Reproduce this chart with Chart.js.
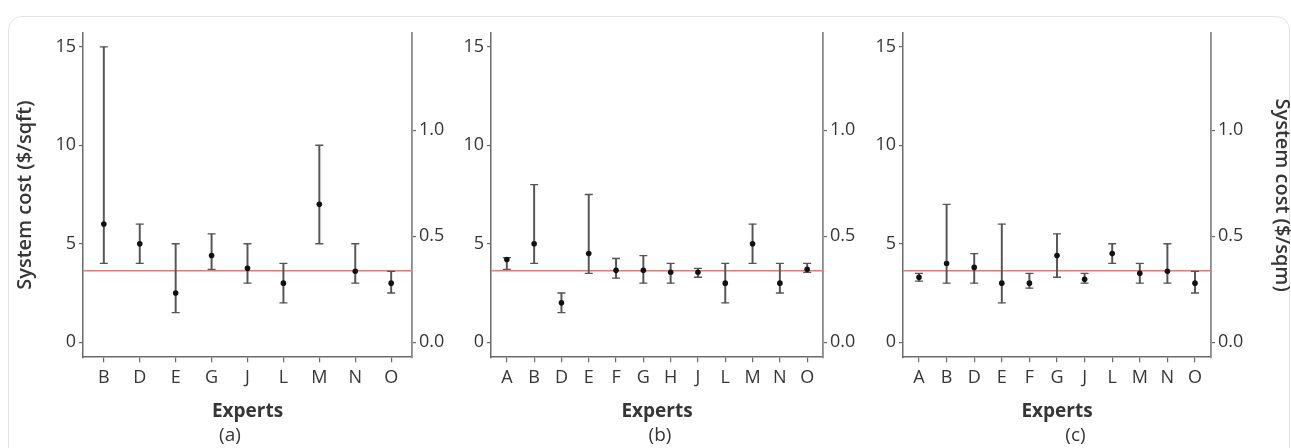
<!DOCTYPE html>
<html>
<head>
<meta charset="utf-8">
<script src="https://cdn.jsdelivr.net/npm/chart.js@4"></script>
<style>
  body { margin: 0; background: #fff; }
  #wrap { position: relative; width: 1291px; height: 448px; overflow: hidden; background: #fff; }
  #card { position: absolute; left: 8px; top: 16px; width: 1280px; height: 460px;
          border: 1.5px solid #e4e4e4; border-radius: 14px; background: #fff; }
  canvas { position: absolute; top: 0; }
</style>
</head>
<body>
<div id="wrap">
  <div id="card"></div>
  <canvas id="chartA" width="460" height="448" style="left:0px"></canvas>
  <canvas id="chartB" width="440" height="448" style="left:440px"></canvas>
  <canvas id="chartC" width="431" height="448" style="left:860px"></canvas>
</div>
<script>
// reference line (mean) shown in red on every panel
const refLine = 3.63;
const sqftPerSqm = 10.76;
const yTicks = [0, 5, 10, 15];
const y2Ticks = [0, 0.5, 1.0];

// panel (a)
const expertsA = ['B', 'D', 'E', 'G', 'J', 'L', 'M', 'N', 'O'];
const meanA  = [6, 5, 2.5, 4.4, 3.75, 3, 7, 3.6, 3];
const lowA   = [4, 4, 1.5, 3.7, 3, 2, 5, 3, 2.5];
const highA  = [15, 6, 5, 5.5, 5, 4, 10, 5, 3.6];

// panel (b)
const expertsB = ['A', 'B', 'D', 'E', 'F', 'G', 'H', 'J', 'L', 'M', 'N', 'O'];
const meanB  = [4.2, 5, 2, 4.5, 3.65, 3.65, 3.55, 3.55, 3, 5, 3, 3.7];
const lowB   = [3.7, 4, 1.5, 3.5, 3.25, 3, 3, 3.3, 2, 4, 2.5, 3.55];
const highB  = [4.3, 8, 2.5, 7.5, 4.25, 4.4, 4, 3.75, 4, 6, 4, 4];

// panel (c)
const expertsC = ['A', 'B', 'D', 'E', 'F', 'G', 'J', 'L', 'M', 'N', 'O'];
const meanC  = [3.3, 4, 3.8, 3, 3, 4.4, 3.2, 4.5, 3.5, 3.6, 3];
const lowC   = [3.1, 3, 3, 2, 2.75, 3.3, 3, 4, 3, 3, 2.5];
const highC  = [3.5, 7, 4.5, 6, 3.5, 5.5, 3.5, 5, 4, 5, 3.6];

const yMin = -0.76, yMax = 15.7;
const xPad = 0.58;
const axisColor = '#6a6a6a';
const textColor = '#363636';
const fontFamily = '"Open Sans", "Noto Sans", sans-serif';

function makePanel(id, opts) {
  const { labels, mean, low, high, tag, leftW, rightW, leftTitle, rightTitle } = opts;
  const xMin = -xPad, xMax = labels.length - 1 + xPad;
  const pts = arr => arr.map((v, i) => ({ x: i, y: v }));

  new Chart(document.getElementById(id), {
    type: 'scatter',
    data: {
      datasets: [
        { type: 'scatter', data: pts(mean), pointStyle: 'circle', pointRadius: 2.8,
          backgroundColor: '#111', borderColor: '#111', borderWidth: 0, order: 0 },
        { type: 'scatter', data: pts(high), pointStyle: 'line', pointRadius: 4,
          borderColor: '#555', borderWidth: 1.3, order: 1 },
        { type: 'scatter', data: pts(low), pointStyle: 'line', pointRadius: 4,
          borderColor: '#555', borderWidth: 1.3, order: 1 },
        { type: 'bar', data: labels.map((_, i) => ({ x: i, y: [low[i], high[i]] })),
          backgroundColor: '#555', borderWidth: 0, barThickness: 1.3, order: 2 },
        { type: 'line', data: [{ x: xMin, y: refLine }, { x: xMax, y: refLine }],
          borderColor: '#e27b7b', borderWidth: 1.6, pointRadius: 0, order: 3 }
      ]
    },
    options: {
      responsive: false,
      animation: false,
      events: [],
      layout: { padding: { top: 33, bottom: 1, left: 0, right: 0 } },
      plugins: {
        legend: { display: false },
        tooltip: { enabled: false },
        title: { display: true, text: tag, position: 'bottom', color: textColor,
                 font: { family: fontFamily, size: 19, weight: 'normal' }, padding: 0 }
      },
      scales: {
        x: {
          type: 'linear', min: xMin, max: xMax, offset: false,
          afterBuildTicks: s => { s.ticks = labels.map((_, i) => ({ value: i })); },
          afterFit: s => { s.height = 67; },
          grid: { drawOnChartArea: false, offset: false, color: axisColor, tickLength: 5, lineWidth: 1.2 },
          border: { color: axisColor, width: 1.5 },
          ticks: { callback: v => labels[v], color: textColor, maxRotation: 0, autoSkip: false,
                   padding: 5, font: { family: fontFamily, size: 18 } },
          title: { display: true, text: 'Experts', color: textColor, padding: { top: 0, bottom: 1 },
                   font: { family: fontFamily, size: 19, weight: 'bold' } }
        },
        y: {
          position: 'left', min: yMin, max: yMax,
          afterBuildTicks: s => { s.ticks = yTicks.map(v => ({ value: v })); },
          afterFit: s => { s.width = leftW; },
          grid: { drawOnChartArea: false, color: axisColor, tickLength: 4, lineWidth: 1.2 },
          border: { color: axisColor, width: 1.5 },
          ticks: { color: textColor, padding: 3, font: { family: fontFamily, size: 18 } },
          title: { display: !!leftTitle, text: leftTitle || '', color: textColor,
                   padding: { top: 13, bottom: 0 },
                   font: { family: fontFamily, size: 20, weight: '600' } }
        },
        y2: {
          position: 'right', min: yMin / sqftPerSqm, max: yMax / sqftPerSqm,
          afterBuildTicks: s => { s.ticks = y2Ticks.map(v => ({ value: v })); },
          afterFit: s => { s.width = rightW; },
          grid: { drawOnChartArea: false, color: axisColor, tickLength: 4, lineWidth: 1.2 },
          border: { color: '#8a8a8a', width: 1.8 },
          ticks: { color: textColor, padding: 3, callback: v => v.toFixed(1),
                   font: { family: fontFamily, size: 18 } },
          title: { display: !!rightTitle, text: rightTitle || '', color: textColor,
                   padding: { top: -3, bottom: 0 },
                   font: { family: fontFamily, size: 20, weight: '600' } }
        }
      }
    }
  });
}

document.addEventListener('DOMContentLoaded', () => {
  makePanel('chartA', { labels: expertsA, mean: meanA, low: lowA, high: highA, tag: '(a)',
                        leftW: 83, rightW: 48, leftTitle: 'System cost ($/sqft)' });
  makePanel('chartB', { labels: expertsB, mean: meanB, low: lowB, high: highB, tag: '(b)',
                        leftW: 51, rightW: 57 });
  makePanel('chartC', { labels: expertsC, mean: meanC, low: lowC, high: highC, tag: '(c)',
                        leftW: 43, rightW: 80, rightTitle: 'System cost ($/sqm)' });
});
</script>
</body>
</html>
